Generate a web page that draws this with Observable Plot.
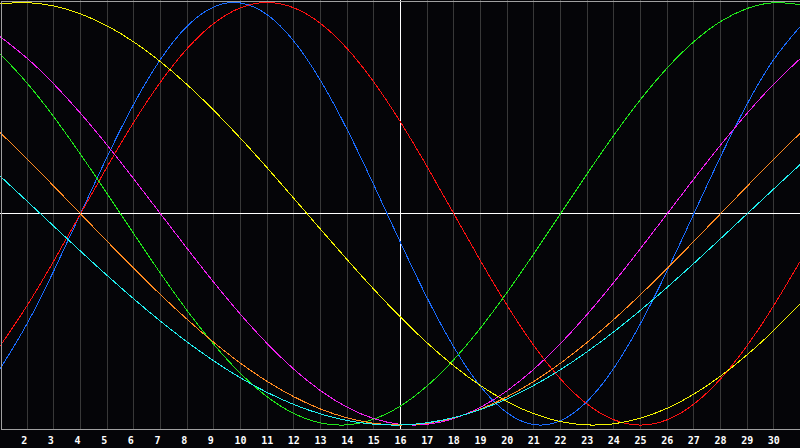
<!DOCTYPE html>
<html>
<head>
<meta charset="utf-8">
<script src="https://cdn.jsdelivr.net/npm/d3@7"></script>
<script src="https://cdn.jsdelivr.net/npm/@observablehq/plot@0.6"></script>
<style>
  html, body { margin: 0; padding: 0; background: #050508; }
  #chart { width: 800px; height: 448px; overflow: hidden; }
</style>
</head>
<body>
<div id="chart"></div>
<script>
const days = [1,2,3,4,5,6,7,8,9,10,11,12,13,14,15,16,17,18,19,20,21,22,23,24,25,26,27,28,29,30,31];
const tickDays = [2,3,4,5,6,7,8,9,10,11,12,13,14,15,16,17,18,19,20,21,22,23,24,25,26,27,28,29,30];
const markerDay = [16];

const physical = [-0.7308,-0.5196,-0.2698,0,0.2698,0.5196,0.7308,0.8879,0.9791,0.9977,0.9423,0.8170,0.6311,0.3984,0.1362,-0.1362,-0.3984,-0.6311,-0.8170,-0.9423,-0.9977,-0.9791,-0.8879,-0.7308,-0.5196,-0.2698,0,0.2698,0.5196,0.7308,0.8879];
const emotional = [-0.6235,-0.4339,-0.2225,0,0.2225,0.4339,0.6235,0.7818,0.9010,0.9749,1,0.9749,0.9010,0.7818,0.6235,0.4339,0.2225,0,-0.2225,-0.4339,-0.6235,-0.7818,-0.9010,-0.9749,-1,-0.9749,-0.9010,-0.7818,-0.6235,-0.4339,-0.2225];
const intellectual = [0.7557,0.6182,0.4582,0.2817,0.0951,-0.0951,-0.2817,-0.4582,-0.6182,-0.7557,-0.8660,-0.9450,-0.9898,-0.9989,-0.9718,-0.9096,-0.8146,-0.6901,-0.5406,-0.3717,-0.1893,0,0.1893,0.3717,0.5406,0.6901,0.8146,0.9096,0.9718,0.9989,0.9898];
const intuitive = [0.8372,0.7357,0.6142,0.4759,0.3247,0.1646,0,-0.1646,-0.3247,-0.4759,-0.6142,-0.7357,-0.8372,-0.9158,-0.9694,-0.9966,-0.9966,-0.9694,-0.9158,-0.8372,-0.7357,-0.6142,-0.4759,-0.3247,-0.1646,0,0.1646,0.3247,0.4759,0.6142,0.7357];
const aesthetic = [0.9940,0.9993,0.9834,0.9464,0.8893,0.8133,0.7199,0.6112,0.4894,0.3573,0.2174,0.0730,-0.0730,-0.2174,-0.3573,-0.4894,-0.6112,-0.7199,-0.8133,-0.8893,-0.9464,-0.9834,-0.9993,-0.9940,-0.9675,-0.9204,-0.8536,-0.7686,-0.6673,-0.5517,-0.4244];
const awareness = [0.3827,0.2588,0.1305,0,-0.1305,-0.2588,-0.3827,-0.5,-0.6088,-0.7071,-0.7934,-0.8660,-0.9239,-0.9659,-0.9914,-1,-0.9914,-0.9659,-0.9239,-0.8660,-0.7934,-0.7071,-0.6088,-0.5,-0.3827,-0.2588,-0.1305,0,0.1305,0.2588,0.3827];
const spiritual = [0.1769,0.0592,-0.0592,-0.1769,-0.2921,-0.4031,-0.5085,-0.6068,-0.6966,-0.7765,-0.8456,-0.9028,-0.9473,-0.9786,-0.9960,-0.9996,-0.9890,-0.9646,-0.9267,-0.8757,-0.8125,-0.7379,-0.6529,-0.5586,-0.4566,-0.3482,-0.2349,-0.1180,0,0.1180,0.2349];

const seriesNames = ["Physical","Emotional","Intellectual","Intuitive","Aesthetic","Awareness","Spiritual"];
const seriesColors = ["#1a6cff","#ff1010","#20e81a","#f020f0","#f4f400","#ff8a20","#20f0f0"];
const seriesValues = [physical, emotional, intellectual, intuitive, aesthetic, awareness, spiritual];

const rows = [];
seriesNames.forEach((name, s) => {
  days.forEach((d, i) => rows.push({day: d, value: seriesValues[s][i], series: name}));
});

const chart = Plot.plot({
  width: 800,
  height: 448,
  marginTop: 0,
  marginRight: 0,
  marginBottom: 19,
  marginLeft: 0,
  style: {background: "#050508", color: "white", fontFamily: "'DejaVu Sans Mono', monospace", fontSize: "10px", fontWeight: "bold"},
  x: {domain: [1, 31], label: null},
  y: {domain: [-1.021, 1.0095], axis: null, label: null},
  color: {domain: seriesNames, range: seriesColors},
  marks: [
    Plot.ruleX(tickDays.filter(d => !markerDay.includes(d)), {stroke: "#383838", strokeWidth: 1, shapeRendering: "crispEdges"}),
    Plot.ruleX(markerDay, {stroke: "#ffffff", strokeWidth: 1, shapeRendering: "crispEdges"}),
    Plot.ruleY([0], {stroke: "#ffffff", strokeWidth: 1, shapeRendering: "crispEdges"}),
    Plot.line(rows, {x: "day", y: "value", z: "series", stroke: "series", curve: "natural", strokeWidth: 1, shapeRendering: "crispEdges"}),
    Plot.frame({stroke: "#a0a0a0", inset: 0.5, shapeRendering: "crispEdges"}),
    Plot.axisX({ticks: tickDays, label: null, tickSize: 0, tickPadding: 7, textAnchor: "start", dx: -6, fill: "white", fontWeight: "bold", fontSize: 10, tickFormat: d => String(d)})
  ]
});
document.getElementById("chart").append(chart);
</script>
</body>
</html>
